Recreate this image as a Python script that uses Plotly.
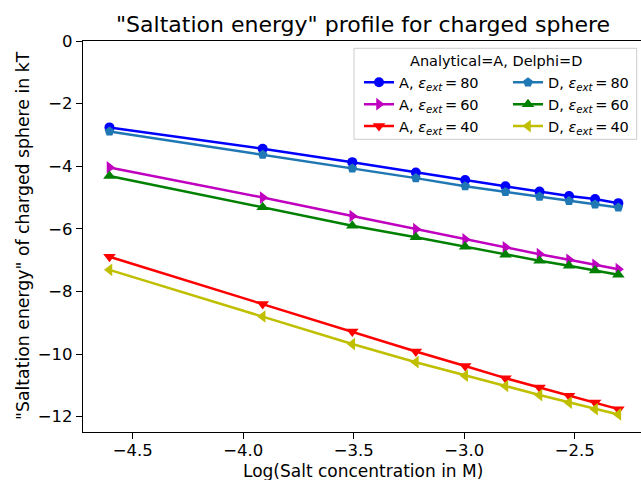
import numpy as np
import plotly.graph_objects as go

# salt concentrations (M) and log
salt_conc = [0.01, 0.02, 0.03, 0.04, 0.05, 0.06, 0.07, 0.08, 0.09, 0.10]
log_salt = list(np.log(salt_conc))

a80 = [-2.76, -3.44, -3.87, -4.20, -4.44, -4.64, -4.81, -4.95, -5.05, -5.18]
a60 = [-4.04, -5.00, -5.59, -6.01, -6.34, -6.59, -6.81, -6.99, -7.15, -7.29]
a40 = [-6.89, -8.40, -9.28, -9.92, -10.38, -10.77, -11.07, -11.33, -11.55, -11.76]
d80 = [-2.89, -3.63, -4.07, -4.38, -4.64, -4.82, -4.97, -5.11, -5.22, -5.32]
d60 = [-4.31, -5.31, -5.90, -6.27, -6.57, -6.83, -7.02, -7.18, -7.33, -7.47]
d40 = [-7.31, -8.80, -9.68, -10.26, -10.69, -11.02, -11.31, -11.55, -11.76, -11.93]

x_ticks = [-4.5, -4.0, -3.5, -3.0, -2.5]
y_ticks = [0, -2, -4, -6, -8, -10, -12]

title_text = '"Saltation energy" profile for charged sphere'
xlabel = "Log(Salt concentration in M)"
ylabel = '"Saltation energy" of charged sphere in kT'
legend_title = "Analytical=A, Delphi=D"

FONT = "DejaVu Sans"

def lab(prefix, eps):
    return f"{prefix}, <i>ε<sub>ext</sub></i>\u2009=\u2009{eps}"

series = [
    (a80, lab("A", 80), "#0000ff", "circle", 10, "legend"),
    (a60, lab("A", 60), "#bf00bf", "triangle-right", 11, "legend"),
    (a40, lab("A", 40), "#ff0000", "triangle-down", 11, "legend"),
    (d80, lab("D", 80), "#1f77b4", "pentagon", 10, "legend2"),
    (d60, lab("D", 60), "#008000", "triangle-up", 11, "legend2"),
    (d40, lab("D", 40), "#bfbf00", "triangle-left", 11, "legend2"),
]

fig = go.Figure()
for ys, name, color, sym, size, lg in series:
    fig.add_trace(go.Scatter(
        x=log_salt, y=ys, name=name, mode="lines+markers",
        line=dict(color=color, width=2.5),
        marker=dict(symbol=sym, size=size, color=color, line=dict(width=0)),
        legend=lg,
    ))

W, H = 641, 480
L, R, T, B = 83, 0, 41, 48
pw, ph = W - L - R, H - T - B

def px(xp):
    return (xp - L) / pw

def py(yp):
    return (H - B - yp) / ph

leg_common = dict(bgcolor="rgba(0,0,0,0)", borderwidth=0,
                  font=dict(family=FONT, size=14.5, color="black"),
                  xanchor="left", yanchor="top", tracegroupgap=0)

fig.update_layout(
    width=W, height=H,
    margin=dict(l=L, r=R, t=T, b=B),
    paper_bgcolor="white", plot_bgcolor="white",
    font=dict(family=FONT, color="black"),
    showlegend=True,
    legend=dict(x=px(359), y=py(66.4), **leg_common),
    legend2=dict(x=px(508), y=py(66.4), **leg_common),
    xaxis=dict(range=[-4.725, -4.725 + pw / 221.0], tickvals=x_ticks,
               tickformat=".1f", ticks="outside", ticklen=6, tickwidth=1.3,
               tickcolor="black", showline=True, linecolor="black",
               linewidth=1.3, mirror=True, showgrid=False, zeroline=False,
               automargin=False, ticklabelstandoff=-3,
               tickfont=dict(family=FONT, size=16.5, color="black")),
    yaxis=dict(range=[-12.49, 0], tickvals=y_ticks, ticks="outside",
               ticklen=6, tickwidth=1.3, tickcolor="black", showline=True,
               linecolor="black", linewidth=1.3, mirror=False,
               showgrid=False, zeroline=False, automargin=False,
               tickfont=dict(family=FONT, size=16.5, color="black")),
    shapes=[dict(type="rect", xref="paper", yref="paper",
                 x0=px(354), x1=px(636.7), y0=py(139.3), y1=py(48.3),
                 line=dict(color="#cccccc", width=1),
                 fillcolor="rgba(255,255,255,0.8)", layer="above")],
    annotations=[
        dict(text=title_text, xref="paper", yref="paper", x=px(363), y=py(25),
             xanchor="center", yanchor="middle", showarrow=False,
             font=dict(family=FONT, size=22, color="black")),
        dict(text=xlabel, xref="paper", yref="paper", x=px(363), y=py(470.5),
             xanchor="center", yanchor="middle", showarrow=False, borderpad=0,
             font=dict(family=FONT, size=17, color="black")),
        dict(text=ylabel, xref="paper", yref="paper", x=px(23), y=py(236),
             xanchor="center", yanchor="middle", showarrow=False,
             textangle=-90,
             font=dict(family=FONT, size=17.3, color="black")),
        dict(text=legend_title, xref="paper", yref="paper", x=px(495.5),
             y=py(60.7), xanchor="center", yanchor="middle", showarrow=False,
             font=dict(family=FONT, size=14.5, color="black")),
    ],
)

fig.write_html("out.html", config={"displayModeBar": False},
               post_script="document.body.style.margin='0';document.body.style.overflow='hidden';")
